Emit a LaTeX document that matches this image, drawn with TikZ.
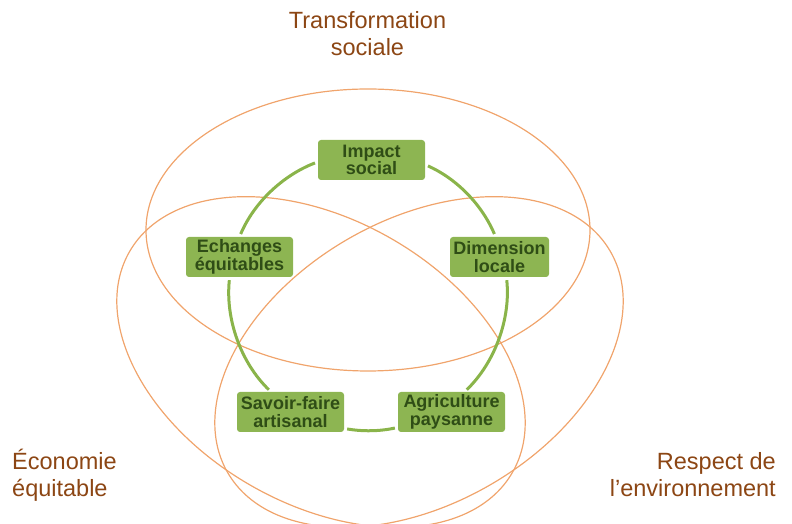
\documentclass[tikz,border=0pt]{standalone}
\usepackage{fontspec}
\setmainfont{Liberation Sans}
\definecolor{ringorange}{HTML}{F0A46C}
\definecolor{boxgreen}{HTML}{8DB552}
\definecolor{linkgreen}{HTML}{8AB44A}
\definecolor{textgreen}{HTML}{2F4D16}
\definecolor{lblbrown}{HTML}{8C4614}
\begin{document}
\begin{tikzpicture}[x=1pt,y=1pt,
  ring/.style={draw=ringorange, line width=1.2pt},
  box/.style={fill=boxgreen, rounded corners=3pt, text=textgreen,
    font=\bfseries\fontsize{18}{17.5}\selectfont, align=center,
    minimum height=40pt, minimum width=107pt, inner sep=0pt},
  link/.style={draw=linkgreen, line width=3pt, shorten <=3pt, shorten >=3pt, looseness=0.88},
  lbl/.style={text=lblbrown, font=\fontsize{23.5}{27}\selectfont, inner sep=0pt}]
\useasboundingbox (0,0) rectangle (792,524);
% circles of the Venn diagram
\draw[ring] (368,294) ellipse [x radius=222, y radius=141];
\begin{scope}[shift={(321,162)}, rotate=-30]
  \draw[ring] (0,0) ellipse [x radius=221, y radius=142];
\end{scope}
\begin{scope}[shift={(419,162)}, rotate=30]
  \draw[ring] (0,0) ellipse [x radius=221, y radius=142];
\end{scope}
% nodes
\node[box] (imp) at (371.5,364) {Impact\\social};
\node[box] (ech) at (239.5,267) {Echanges\\équitables};
\node[box, minimum width=99pt] (dim) at (499.5,267) {Dimension\\locale};
\node[box] (sav) at (290.5,112) {Savoir-faire\\artisanal};
\node[box] (agr) at (451.5,112) {Agriculture\\paysanne};
% connectors
\draw[link] (imp.182) to[out=201, in=67] (ech.north);
\draw[link] (ech.244) to[out=264, in=136] (sav.134);
\draw[link] (sav.-17.6) to[out=350, in=192.4] (agr.196.4);
\draw[link] (agr.57) to[out=44, in=-84] (dim.-71.5);
\draw[link] (dim.101) to[out=113, in=-24] (imp.-5.6);
% labels
\node[lbl, anchor=base, align=center] (ts) at (367.5,468) {Transformation\\sociale};
\node[lbl, anchor=base west, align=left] (ee) at (12,27) {Économie\\équitable};
\node[lbl, anchor=base east, align=right] (re) at (776,27) {Respect de\\l’environnement};
\end{tikzpicture}
\end{document}
